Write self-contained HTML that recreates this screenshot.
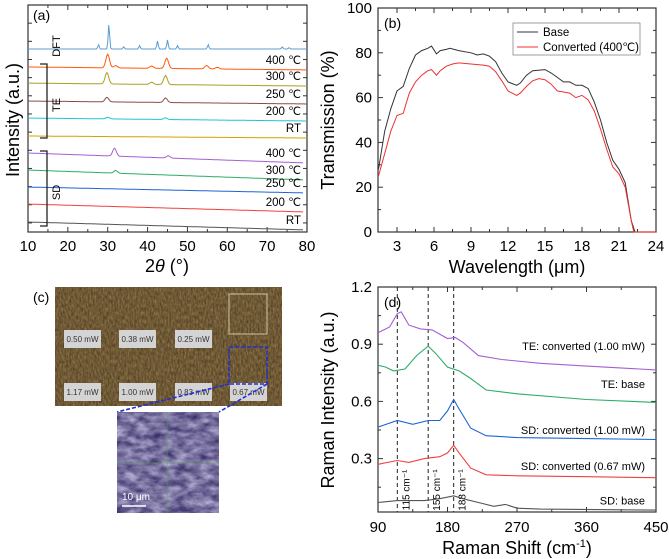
<!DOCTYPE html>
<html><head><meta charset="utf-8"><style>
body{margin:0;background:#fff;width:669px;height:559px;overflow:hidden}
svg{display:block;font-family:"Liberation Sans",Arial,sans-serif}
</style></head><body>
<svg id="fig" width="669" height="559" viewBox="0 0 669 559">
<defs>
<filter id="noiseBrown" x="0" y="0" width="100%" height="100%" color-interpolation-filters="sRGB">
<feTurbulence type="fractalNoise" baseFrequency="0.6 0.25" numOctaves="2" seed="3" result="n"/>
<feColorMatrix in="n" type="matrix" values="0.35 0 0 0 0.26  0.3 0 0 0 0.2  0.2 0 0 0 0.11  0 0 0 0 1"/>
</filter>
<filter id="noisePurple" x="0" y="0" width="100%" height="100%" color-interpolation-filters="sRGB">
<feTurbulence type="fractalNoise" baseFrequency="0.08 0.15" numOctaves="3" seed="7" result="n"/>
<feColorMatrix in="n" type="matrix" values="0.7 0 0 0 0.12  0.7 0 0 0 0.09  0.6 0 0 0 0.32  0 0 0 0 1"/>
</filter>
</defs>

<g>
<text x="33" y="302" font-size="14">(c)</text>
<rect x="55" y="287" width="227" height="119" filter="url(#noiseBrown)"/>
<rect x="229" y="294" width="38" height="40" fill="none" stroke="#cfc4a0" stroke-width="1"/>
<g font-size="8" fill="#333">
<rect x="64" y="330" width="37" height="18" fill="#d4d4d4"/><text x="82.5" y="342" text-anchor="middle">0.50 mW</text>
<rect x="119" y="330" width="37" height="18" fill="#d4d4d4"/><text x="137.5" y="342" text-anchor="middle">0.38 mW</text>
<rect x="175" y="330" width="37" height="18" fill="#d4d4d4"/><text x="193.5" y="342" text-anchor="middle">0.25 mW</text>
<rect x="64" y="383" width="37" height="18" fill="#d4d4d4"/><text x="82.5" y="395" text-anchor="middle">1.17 mW</text>
<rect x="119" y="383" width="37" height="18" fill="#d4d4d4"/><text x="137.5" y="395" text-anchor="middle">1.00 mW</text>
<rect x="175" y="383" width="37" height="18" fill="#d4d4d4"/><text x="193.5" y="395" text-anchor="middle">0.83 mW</text>
<rect x="230" y="383" width="37" height="18" fill="#d4d4d4"/><text x="248.5" y="395" text-anchor="middle">0.67 mW</text>
</g>
<rect x="229" y="347" width="38" height="37" fill="none" stroke="#1f2fd6" stroke-width="1.6" stroke-dasharray="4,2"/>
<line x1="229" y1="384" x2="117" y2="412" stroke="#1f2fd6" stroke-width="1.6" stroke-dasharray="4,2"/>
<line x1="267" y1="384" x2="219" y2="412" stroke="#1f2fd6" stroke-width="1.6" stroke-dasharray="4,2"/>
<rect x="117" y="412" width="102" height="101" filter="url(#noisePurple)"/>
<line x1="117" y1="463" x2="219" y2="463" stroke="#5a9a5a" stroke-width="0.6"/>
<line x1="167" y1="412" x2="167" y2="513" stroke="#5a9a5a" stroke-width="0.5"/>
<text x="122" y="500" font-size="10" fill="#fff">10 μm</text>
<line x1="122" y1="506" x2="146" y2="506" stroke="#fff" stroke-width="1.5"/>
</g>
</svg>
<script>
// ---------- Panel (a) XRD data ----------
const xrdNames=["DFT","TE 400 ℃","TE 300 ℃","TE 250 ℃","TE 200 ℃","TE RT","SD 400 ℃","SD 300 ℃","SD 250 ℃","SD 200 ℃","SD RT"];
const xrdColors=["#5b9bd5","#ff5a0a","#a8a020","#8b4a4a","#1cc6d6","#d4a200","#a35fd6","#2eac66","#1e64d8","#f04040","#555555"];
const xrdStart=[80.6,72.7,65.6,57.7,50.2,42.3,34.8,27.3,19.8,12.3,4.4];
const xrdEnd=[80.6,71.4,64.3,56.4,48.9,41.4,30.4,22.9,17.2,8.8,0.9];
const xrdStop=[80,80,80,80,80,80,79,79,79,79,79];
const xrdPeakPos=[[27.7,30.3,34,38,42.5,45,47.5,55.2,73.8,75.5],[30,32,41,44.8,54.8,57.5],[29.8,41,44.5],[29.8,44.5],[30,44.5],[],[31.7,45.2],[32],[],[],[]];
const xrdPeakH=[[2,11,1,1.5,3.5,4,1.5,2,1,0.6],[6,1,1,4.5,1.5,0.7],[5,1,4],[2,2],[0.7,0.7],[],[3.5,1],[1.2],[],[],[]];
const xrdLabels=["400 ℃","300 ℃","250 ℃","200 ℃","RT","400 ℃","300 ℃","250 ℃","200 ℃","RT"];
// ---------- Panel (b) FTIR data ----------
const wlBase=[1.5,2,2.5,3,3.5,4,4.5,5,5.5,5.8,6.2,6.5,7,7.3,8,9,9.5,10,10.5,11,11.5,12,12.7,13,13.5,14,15,15.5,16,16.5,17,17.5,18,18.5,19,19.5,20,20.5,21,21.5,22,22.3,24];
const tBase=[28,45,55,63,65,73,79,81,82,83,79.5,81,81.5,82,81,80,79,79.5,78.5,76,71,67,65.5,66.5,70,72,72.5,71,69,67,67,65.5,65.5,64,58,50,40,32,28,22,5,0,0];
const wlConv=[1.5,2,2.5,3,3.5,4,4.5,5,5.5,5.8,6.2,6.5,7,7.5,8,9,10,10.5,11,11.5,12,12.7,13,13.5,14,14.5,15,15.5,16,16.5,17,17.5,18,18.5,19,19.5,20,20.5,21,21.5,22,22.2,24];
const tConv=[25,35,45,52,53,62,67,70,72,72.5,70,72,74,75,75.5,75,74.5,74,71.5,67.5,63,61,62,65,67.5,68.5,68,66,63,62.5,62,60,61,59,54,46,37,29,26,20,5,0,0];
const ftirTicks=[3,6,9,12,15,18,21,24];
const ftirYTicks=[0,20,40,60,80,100];
// ---------- Panel (d) Raman data ----------
const ramanNames=["SD: base","SD: converted (0.67 mW)","SD: converted (1.00 mW)","TE: base","TE: converted (1.00 mW)"];
const ramanColors=["#555555","#f04040","#1e64d8","#2eac66","#a35fd6"];
const ramanX=[[90,115,150,170,188,200,220,240,255,270,300,450],[90,115,130,150,170,180,188,195,210,230,270,360,450],[90,115,135,155,170,180,188,195,210,230,270,360,450],[90,100,110,125,140,155,165,180,195,210,230,270,360,450],[90,105,115,120,130,145,160,180,190,200,220,250,300,360,450]];
const ramanY=[[0.07,0.08,0.08,0.09,0.105,0.09,0.07,0.05,0.06,0.04,0.035,0.03],[0.27,0.29,0.28,0.3,0.31,0.33,0.37,0.33,0.25,0.215,0.21,0.205,0.2],[0.465,0.5,0.48,0.5,0.5,0.55,0.61,0.56,0.46,0.42,0.41,0.405,0.4],[0.79,0.78,0.76,0.77,0.84,0.89,0.85,0.78,0.76,0.72,0.66,0.64,0.61,0.595],[0.96,0.99,1.06,1.07,1.0,0.98,0.975,0.93,0.935,0.91,0.84,0.82,0.8,0.785,0.765]];
const ramanLabelY=[0.08,0.26,0.45,0.69,0.89];
const ramanPeaks=[115,155,188];
const ramanPeakLabels=["115 cm⁻¹","155 cm⁻¹","188 cm⁻¹"];
const ramanXTicks=[90,180,270,360,450];
const ramanYTicks=[0.3,0.6,0.9,1.2];

const NS="http://www.w3.org/2000/svg";
const svg=document.getElementById('fig');
function mk(tag,attrs,parent,text){const e=document.createElementNS(NS,tag);for(const k in attrs)e.setAttribute(k,attrs[k]);if(text!==undefined)e.textContent=text;(parent||svg).appendChild(e);return e;}
function lin(d0,d1,p0,p1){return v=>p0+(v-d0)/(d1-d0)*(p1-p0);}
function frame(g,L,T,R,B){mk('rect',{x:L,y:T,width:R-L,height:B-T,fill:'none',stroke:'#333','stroke-width':1.2},g);}
function xTicks(g,sx,T,B,vals,len){vals.forEach(v=>{const x=sx(v);mk('line',{x1:x,y1:B,x2:x,y2:B-len,stroke:'#333'},g);mk('line',{x1:x,y1:T,x2:x,y2:T+len,stroke:'#333'},g);});}
function yTicks(g,sy,L,R,vals,len){vals.forEach(v=>{const y=sy(v);mk('line',{x1:L,y1:y,x2:L+len,y2:y,stroke:'#333'},g);mk('line',{x1:R,y1:y,x2:R-len,y2:y,stroke:'#333'},g);});}

// ===== Panel a =====
(function(){
const L=28,T=5,R=307,B=232;
const sx=lin(10,80,L,R), sy=lin(0,100,B,T);
const g=mk('g',{});


frame(g,L,T,R,B);
xTicks(g,sx,T,B,[10,20,30,40,50,60,70,80],5);
xTicks(g,sx,T,B,[15,25,35,45,55,65,75],3);
const yt=[];for(let v=4;v<100;v+=8)yt.push(v);
yTicks(g,sy,L,R,yt,4);
[10,20,30,40,50,60,70,80].forEach(v=>{const t=mk('text',{x:sx(v),y:251,'font-size':15,'text-anchor':'middle'},g,String(v));});
const xt=mk('text',{x:167,y:272,'font-size':18,'text-anchor':'middle'},g);

mk('tspan',{},xt,'2');mk('tspan',{'font-style':'italic'},xt,'θ');mk('tspan',{},xt,' (°)');
const yt2=mk('text',{x:0,y:0,'font-size':18,'text-anchor':'middle',transform:'translate(19,120) rotate(-90)'},g,'Intensity (a.u.)');

const pl=mk('text',{x:33,y:20,'font-size':14},g,'(a)');
xrdNames.forEach((n,i)=>{
  let pts=[];
  for(let x=10;x<=xrdStop[i];x+=0.25){
    let y=xrdStart[i]+(xrdEnd[i]-xrdStart[i])*(x-10)/70;
    xrdPeakPos[i].forEach((p,k)=>{const w=(i==0)?0.18:0.45;y+=xrdPeakH[i][k]*Math.exp(-((x-p)*(x-p))/(2*w*w));});
    pts.push(sx(x).toFixed(1)+','+sy(y).toFixed(1));
  }
  const p=mk('polyline',{points:pts.join(' '),fill:'none',stroke:xrdColors[i],'stroke-width':1},g);
  
  if(i>0){const yl=sy(xrdEnd[i])-6;const t=mk('text',{x:301,y:yl,'font-size':11.5,'text-anchor':'end'},g,xrdLabels[i-1]);}
});
const d=mk('text',{x:0,y:0,'font-size':11,'text-anchor':'middle',transform:'translate(60,46) rotate(-90)'},g,'DFT');
[[64,138,'TE'],[151,226,'SD']].forEach(b=>{
  mk('path',{d:`M40 ${b[0]} H47 V${b[1]} H40`,fill:'none',stroke:'#222','stroke-width':1.3},g);
  const t=mk('text',{x:0,y:0,'font-size':11,'text-anchor':'middle',transform:`translate(60,${(b[0]+b[1])/2+4}) rotate(-90)`},g,b[2]);
  
});
})();

// ===== Panel b =====
(function(){
const L=378,T=8,R=656,B=232;
const sx=lin(1.46,24,L,R), sy=lin(0,100,B,T);
const g=mk('g',{});


frame(g,L,T,R,B);
xTicks(g,sx,T,B,ftirTicks,5);
xTicks(g,sx,T,B,[4.5,7.5,10.5,13.5,16.5,19.5,22.5],3);
yTicks(g,sy,L,R,ftirYTicks,5);
yTicks(g,sy,L,R,[10,30,50,70,90],3);
ftirTicks.forEach(v=>{const t=mk('text',{x:sx(v),y:251,'font-size':15,'text-anchor':'middle'},g,String(v));});
ftirYTicks.forEach(v=>{const t=mk('text',{x:372,y:sy(v)+5,'font-size':15,'text-anchor':'end'},g,String(v));});
const xt=mk('text',{x:517,y:273,'font-size':18,'text-anchor':'middle'},g,'Wavelength (μm)');
const yt=mk('text',{x:0,y:0,'font-size':18,'text-anchor':'middle',transform:'translate(334,120) rotate(-90)'},g,'Transmission (%)');
const pl=mk('text',{x:384,y:28,'font-size':14},g,'(b)');
const p1=mk('polyline',{points:wlBase.map((w,i)=>sx(w).toFixed(1)+','+sy(tBase[i]).toFixed(1)).join(' '),fill:'none',stroke:'#333','stroke-width':1},g);

const p2=mk('polyline',{points:wlConv.map((w,i)=>sx(w).toFixed(1)+','+sy(tConv[i]).toFixed(1)).join(' '),fill:'none',stroke:'#f03030','stroke-width':1},g);

const lg=mk('g',{},g);
mk('rect',{x:513,y:23,width:127,height:32,fill:'#fff',stroke:'#888','stroke-width':0.8},lg);
mk('line',{x1:517,y1:32,x2:538,y2:32,stroke:'#333'},lg);
mk('line',{x1:517,y1:47,x2:538,y2:47,stroke:'#f03030'},lg);
const e1=mk('text',{x:543,y:36,'font-size':11.5},lg,'Base');
const e2=mk('text',{x:543,y:51,'font-size':11.5},lg,'Converted (400℃)');
})();

// ===== Panel d =====
(function(){
const L=378,T=287,R=656,B=512;
const sx=lin(90,450,L,R), sy=lin(0.02,1.2,B,T);
const g=mk('g',{});


frame(g,L,T,R,B);
xTicks(g,sx,T,B,ramanXTicks,5);
xTicks(g,sx,T,B,[135,225,315,405],3);
yTicks(g,sy,L,R,ramanYTicks,5);
yTicks(g,sy,L,R,[0.15,0.45,0.75,1.05],3);
ramanXTicks.forEach(v=>{const t=mk('text',{x:sx(v),y:532,'font-size':15,'text-anchor':'middle'},g,String(v));});
ramanYTicks.forEach(v=>{const t=mk('text',{x:372,y:sy(v)+5,'font-size':15,'text-anchor':'end'},g,v.toFixed(1));});
const xt=mk('text',{x:517,y:554,'font-size':18,'text-anchor':'middle'},g);

mk('tspan',{},xt,'Raman Shift (cm');mk('tspan',{'font-size':11,dy:-7},xt,'-1');mk('tspan',{dy:7},xt,')');
const yt=mk('text',{x:0,y:0,'font-size':18,'text-anchor':'middle',transform:'translate(334,400) rotate(-90)'},g,'Raman Intensity (a.u.)');
const pl=mk('text',{x:384,y:307,'font-size':14},g,'(d)');
ramanPeaks.forEach((p,i)=>{
  const l=mk('line',{x1:sx(p),y1:T,x2:sx(p),y2:B,stroke:'#222','stroke-dasharray':'4,3','stroke-width':1},g);
  
  const t=mk('text',{x:0,y:0,'font-size':10,'text-anchor':'middle',transform:`translate(${sx(p)+12},490) rotate(-90)`},g,ramanPeakLabels[i]);
  
});
ramanNames.forEach((n,i)=>{
  const p=mk('polyline',{points:ramanX[i].map((x,k)=>sx(x).toFixed(1)+','+sy(ramanY[i][k]).toFixed(1)).join(' '),fill:'none',stroke:ramanColors[i],'stroke-width':1.1},g);
  
  const t=mk('text',{x:645,y:sy(ramanLabelY[i])+4,'font-size':11,'text-anchor':'end'},g,n);
  
});
})();
</script>
</body></html>
